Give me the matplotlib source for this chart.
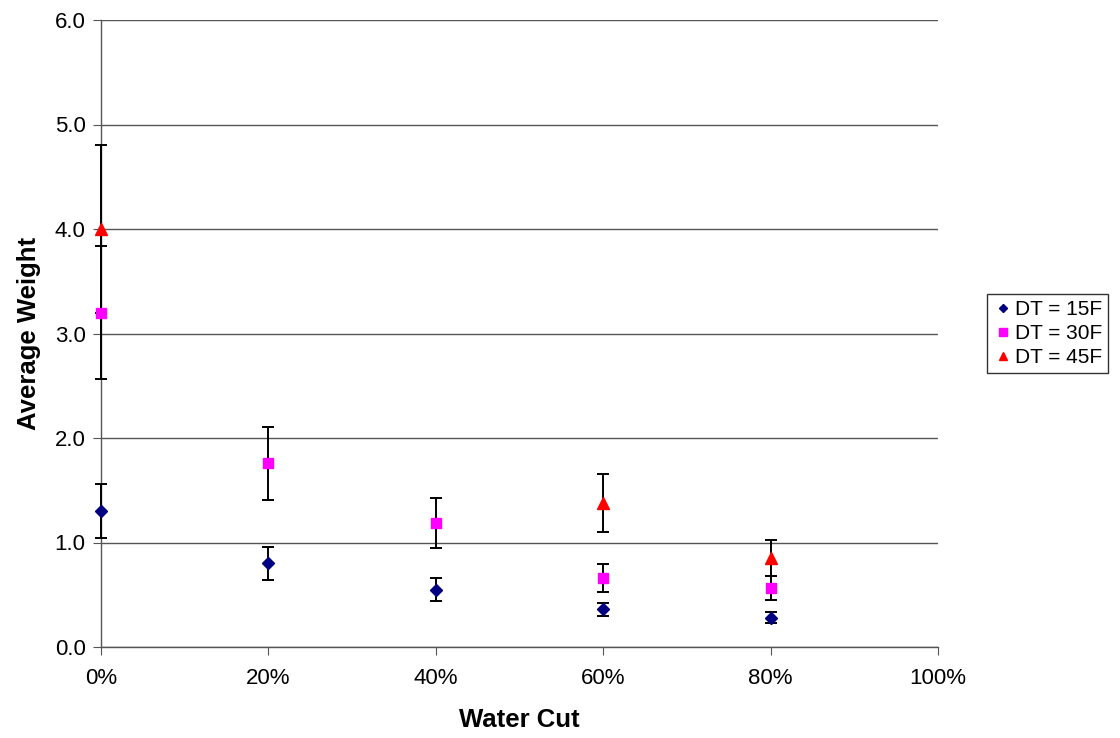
import matplotlib
matplotlib.use('Agg')
import matplotlib.pyplot as plt
from matplotlib.ticker import FuncFormatter

plt.rcParams['font.family'] = ['Liberation Sans', 'DejaVu Sans']

# water cut (%)
water_cut = [0, 20, 40, 60, 80]

dt15 = [1.30, 0.80, 0.55, 0.36, 0.28]
dt15_err = [0.26, 0.16, 0.11, 0.065, 0.055]

dt30 = [3.20, 1.76, 1.19, 0.66, 0.56]
dt30_err = [0.64, 0.35, 0.24, 0.13, 0.115]

wc45 = [0, 60, 80]
dt45 = [4.00, 1.38, 0.85]
dt45_err = [0.80, 0.28, 0.17]

series = [
    (water_cut, dt15, dt15_err, 'D', '#000080', 6, 'DT = 15F'),
    (water_cut, dt30, dt30_err, 's', '#ff00ff', 7, 'DT = 30F'),
    (wc45, dt45, dt45_err, '^', '#ff0000', 8, 'DT = 45F'),
]

fig = plt.figure(figsize=(11.2, 7.38), dpi=100)
ax = fig.add_axes([101 / 1120, 1 - 647 / 738, (938 - 101) / 1120, (647 - 20) / 738])

for x, y, e, m, c, ms, lab in series:
    ax.errorbar(x, y, yerr=e, fmt='none', ecolor='black', elinewidth=1.4,
                capsize=4, capthick=1.4, zorder=3, clip_on=False)
for x, y, e, m, c, ms, lab in series:
    ax.plot(x, y, linestyle='none', marker=m, color=c, markersize=ms,
            label=lab, zorder=4, clip_on=False)

ax.set_xlim(0, 100)
ax.set_ylim(0, 6)
ax.set_xticks(range(0, 101, 20))
ax.xaxis.set_major_formatter(FuncFormatter(lambda v, p: f'{v:.0f}%'))
ax.set_yticks([0, 1, 2, 3, 4, 5, 6])
ax.yaxis.set_major_formatter(FuncFormatter(lambda v, p: f'{v:.1f}'))
ax.grid(axis='y', color='#555555', linewidth=1.0, zorder=0)
ax.set_axisbelow(True)
for s in ['top', 'right']:
    ax.spines[s].set_visible(False)
for s in ['left', 'bottom']:
    ax.spines[s].set_color('#555555')
    ax.spines[s].set_linewidth(1.0)
ax.tick_params(axis='both', direction='out', length=6, color='#555555',
               labelsize=16, pad=5)
ax.tick_params(axis='x', pad=9)

ax.set_xlabel('Water Cut', fontsize=18.5, fontweight='bold', labelpad=14)
ax.set_ylabel('Average Weight', fontsize=18.5, fontweight='bold', labelpad=10)

leg = ax.legend(loc='center left', bbox_to_anchor=(1.058, 0.5), frameon=True,
                fancybox=False, edgecolor='black', fontsize=15,
                handletextpad=0.05, handlelength=1.0, borderpad=0.3,
                labelspacing=0.25, markerscale=0.75, borderaxespad=0)
leg.get_frame().set_linewidth(1.0)

fig.savefig('out.png', dpi=100, facecolor='white')
